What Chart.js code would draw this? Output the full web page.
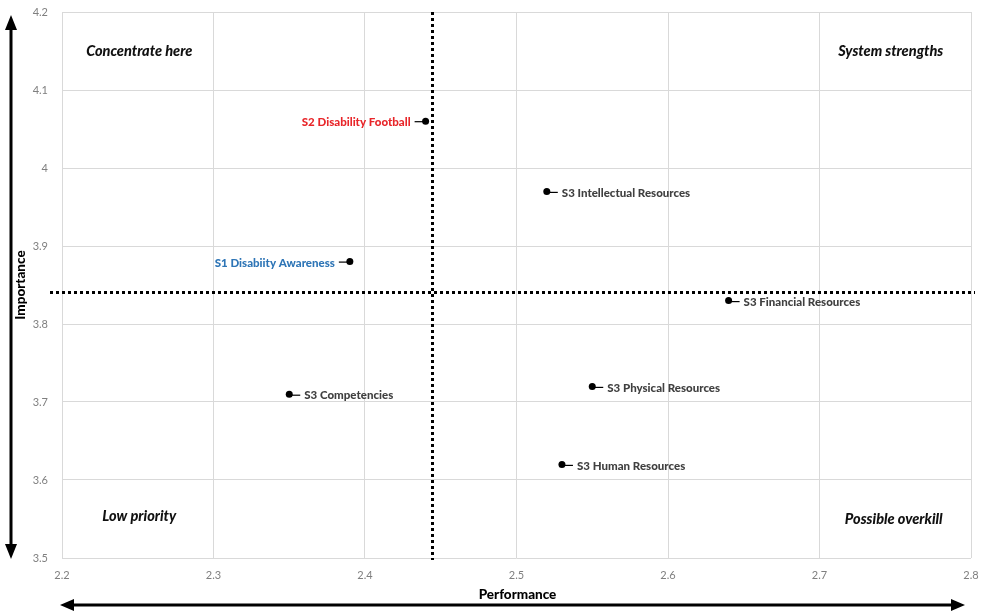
<!DOCTYPE html>
<html>
<head>
<meta charset="utf-8">
<script src="https://cdn.jsdelivr.net/npm/chart.js@4"></script>
<style>
  html, body { margin: 0; padding: 0; background: #ffffff; }
  #wrap { width: 982px; height: 616px; position: relative; }
</style>
</head>
<body>
<div id="wrap"><canvas id="chart" width="982" height="616"></canvas></div>
<script>
// Strategic areas: performance (x) vs importance (y)
const areaNames = [
  'S2 Disability Football',
  'S3 Intellectual Resources',
  'S1 Disabiity Awareness',
  'S3 Financial Resources',
  'S3 Physical Resources',
  'S3 Competencies',
  'S3 Human Resources'
];
const performance = [2.44, 2.52, 2.39, 2.64, 2.55, 2.35, 2.53];
const importance  = [4.06, 3.97, 3.88, 3.83, 3.72, 3.71, 3.62];

// Mean lines splitting the plot into quadrants
const meanPerformance = 2.444;
const meanImportance = 3.841;

const xTicks = [2.2, 2.3, 2.4, 2.5, 2.6, 2.7, 2.8];
const yTicks = [3.5, 3.6, 3.7, 3.8, 3.9, 4, 4.1, 4.2];

const quadrantNames = ['Concentrate here', 'System strengths', 'Low priority', 'Possible overkill'];

// label styling per point: side and colour
const labelSide  = ['left', 'right', 'left', 'right', 'right', 'right', 'right'];
const labelColor = ['#e8262a', '#404040', '#2e75b6', '#404040', '#404040', '#404040', '#404040'];
const quadrantAnchors = [[2.251, 4.15], [2.747, 4.15], [2.251, 3.553], [2.749, 3.549]];

const FONT = 'Lato, "Open Sans", sans-serif';

const overlay = {
  id: 'overlay',
  beforeDatasetsDraw(chart) {
    const { ctx, chartArea: a, scales: { x, y } } = chart;
    ctx.save();
    // dotted mean lines
    ctx.strokeStyle = '#000';
    ctx.lineWidth = 3;
    ctx.setLineDash([3, 3]);
    const vx = Math.round(x.getPixelForValue(meanPerformance)) + 0.5;
    ctx.beginPath();
    ctx.moveTo(vx, a.top);
    ctx.lineTo(vx, a.bottom + 2);
    ctx.stroke();
    const hy = Math.round(y.getPixelForValue(meanImportance)) + 0.5;
    ctx.beginPath();
    ctx.moveTo(a.left - 12, hy);
    ctx.lineTo(a.right + 4, hy);
    ctx.stroke();
    ctx.restore();
  },
  afterDatasetsDraw(chart) {
    const { ctx, chartArea: a, scales: { x, y } } = chart;
    ctx.save();
    // point labels with short leader lines
    ctx.font = '900 11.5px ' + FONT;
    ctx.textBaseline = 'middle';
    areaNames.forEach((name, i) => {
      const px = x.getPixelForValue(performance[i]);
      const py = y.getPixelForValue(importance[i]);
      ctx.strokeStyle = '#000';
      ctx.lineWidth = 1.2;
      ctx.beginPath();
      ctx.fillStyle = labelColor[i];
      if (labelSide[i] === 'right') {
        ctx.moveTo(px, py + 1);
        ctx.lineTo(px + 11, py + 1);
        ctx.stroke();
        ctx.textAlign = 'left';
        ctx.fillText(name, px + 15, py + 1.5);
      } else {
        ctx.moveTo(px, py + 0.5);
        ctx.lineTo(px - 11, py + 0.5);
        ctx.stroke();
        ctx.textAlign = 'right';
        ctx.fillText(name, px - 15, py + 1.5);
      }
    });
    // quadrant captions
    ctx.font = 'italic 900 14.5px ' + FONT;
    ctx.fillStyle = '#111';
    ctx.textAlign = 'center';
    quadrantNames.forEach((q, i) => {
      ctx.fillText(q, x.getPixelForValue(quadrantAnchors[i][0]), y.getPixelForValue(quadrantAnchors[i][1]));
    });
    // axis titles
    ctx.font = '900 13.5px ' + FONT;
    ctx.fillStyle = '#000';
    ctx.fillText('Performance', (a.left + a.right) / 2 + 1, 595);
    ctx.save();
    ctx.translate(21, 285);
    ctx.rotate(-Math.PI / 2);
    ctx.fillText('Importance', 0, 0);
    ctx.restore();
    // double-headed arrows
    ctx.fillStyle = '#000';
    ctx.strokeStyle = '#000';
    ctx.lineWidth = 3;
    ctx.beginPath();
    ctx.moveTo(11, 28); ctx.lineTo(11, 546); ctx.stroke();
    ctx.beginPath(); ctx.moveTo(11, 15); ctx.lineTo(5, 30); ctx.lineTo(17, 30); ctx.closePath(); ctx.fill();
    ctx.beginPath(); ctx.moveTo(11, 559); ctx.lineTo(5, 544); ctx.lineTo(17, 544); ctx.closePath(); ctx.fill();
    ctx.beginPath();
    ctx.moveTo(72, 605); ctx.lineTo(953, 605); ctx.stroke();
    ctx.beginPath(); ctx.moveTo(60, 605); ctx.lineTo(74, 599); ctx.lineTo(74, 611); ctx.closePath(); ctx.fill();
    ctx.beginPath(); ctx.moveTo(965, 605); ctx.lineTo(951, 599); ctx.lineTo(951, 611); ctx.closePath(); ctx.fill();
    ctx.restore();
  }
};

new Chart(document.getElementById('chart'), {
  type: 'scatter',
  data: {
    datasets: [{
      data: performance.map((p, i) => ({ x: p, y: importance[i] })),
      pointRadius: 3.5,
      pointHoverRadius: 3.5,
      backgroundColor: '#000',
      borderColor: '#000',
      borderWidth: 0
    }]
  },
  options: {
    responsive: false,
    animation: false,
    events: [],
    layout: { padding: { left: 0, right: 11, top: 12, bottom: 0 } },
    plugins: { legend: { display: false }, tooltip: { enabled: false } },
    scales: {
      x: {
        type: 'linear',
        min: 2.2, max: 2.8,
        afterBuildTicks(s) { s.ticks = xTicks.map(v => ({ value: v })); },
        afterFit(s) { s.height = 58; s.paddingLeft = 0; s.paddingRight = 0; },
        grid: { color: '#d9d9d9', lineWidth: 1, drawTicks: false },
        border: { display: false },
        ticks: {
          padding: 11,
          color: '#7f7f7f',
          font: { family: FONT, size: 11 },
          callback: v => String(v)
        }
      },
      y: {
        type: 'linear',
        min: 3.5, max: 4.2,
        afterBuildTicks(s) { s.ticks = yTicks.map(v => ({ value: v })); },
        afterFit(s) { s.width = 62; s.paddingTop = 0; s.paddingBottom = 0; },
        grid: { color: '#d9d9d9', lineWidth: 1, drawTicks: false },
        border: { display: false },
        ticks: {
          padding: 14,
          color: '#7f7f7f',
          font: { family: FONT, size: 11 },
          callback: v => String(v)
        }
      }
    }
  },
  plugins: [overlay]
});
</script>
</body>
</html>
